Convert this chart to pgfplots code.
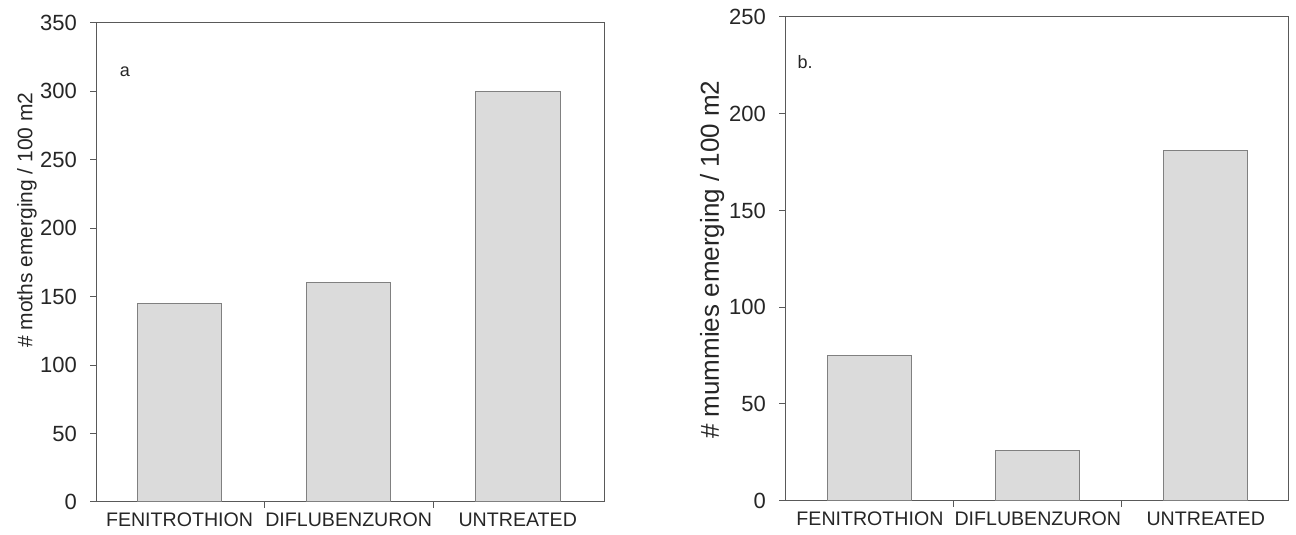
\documentclass[border=0pt]{standalone}
\usepackage{fontspec}
\setmainfont{Liberation Sans}
\usepackage{pgfplots}
\pgfplotsset{compat=1.18}
\begin{document}
\begin{tikzpicture}[x=1pt,y=1pt]
\path[use as bounding box] (0,0) rectangle (648,267.5);
\pgfplotsset{
 common/.style={
  scale only axis, anchor=south west,
  ybar, bar width=0.5,
  ymin=0,
  axis line style={black!65, line width=0.5pt},
  tick style={black!65, line width=0.5pt},
  tick align=outside,
  xtick={0.5,1.5},
  xticklabels={},
  extra x ticks={0,1,2},
  extra x tick labels={FENITROTHION,DIFLUBENZURON,UNTREATED},
  extra x tick style={major tick length=0pt},
  major tick length=3pt,
  xtick pos=bottom, ytick pos=left,
  xticklabel style={font=\fontsize{9.8}{11}\selectfont, yshift=-2pt, text=black!85},
  yticklabel style={font=\fontsize{11}{12}\selectfont, xshift=-3pt, text=black!85},
  /pgf/number format/assume math mode=true,
  clip=false,
 }
}
\begin{axis}[common, at={(48pt,16.5pt)}, width=254pt, height=239.65pt,
  xmin=-0.494, xmax=2.51, ymax=350, ytick={0,50,...,350},
  ylabel={\# moths emerging / 100 m2},
  ylabel style={at={(axis description cs:-0.136,0.588)}, anchor=center, font=\fontsize{10.5}{12}\selectfont, text=black!85}]
\addplot[fill=black!14, draw=black!50, line width=0.5pt] coordinates {(0,145) (1,160) (2,300)};
\node[font=\fontsize{9}{10}\selectfont, text=black!85] at (rel axis cs:0.057,0.897) {a};
\end{axis}
\begin{axis}[common, at={(392.5pt,17.15pt)}, width=251.5pt, height=241.85pt,
  xmin=-0.506, xmax=2.49, ymax=250, ytick={0,50,...,250},
  ylabel={\# mummies emerging / 100 m2},
  ylabel style={at={(axis description cs:-0.145,0.498)}, anchor=center, font=\fontsize{13}{15}\selectfont, text=black!85}]
\addplot[fill=black!14, draw=black!50, line width=0.5pt] coordinates {(0,75) (1,26) (2,181)};
\node[font=\fontsize{9}{10}\selectfont, text=black!85] at (rel axis cs:0.04,0.907) {b.};
\end{axis}
\end{tikzpicture}
\end{document}
